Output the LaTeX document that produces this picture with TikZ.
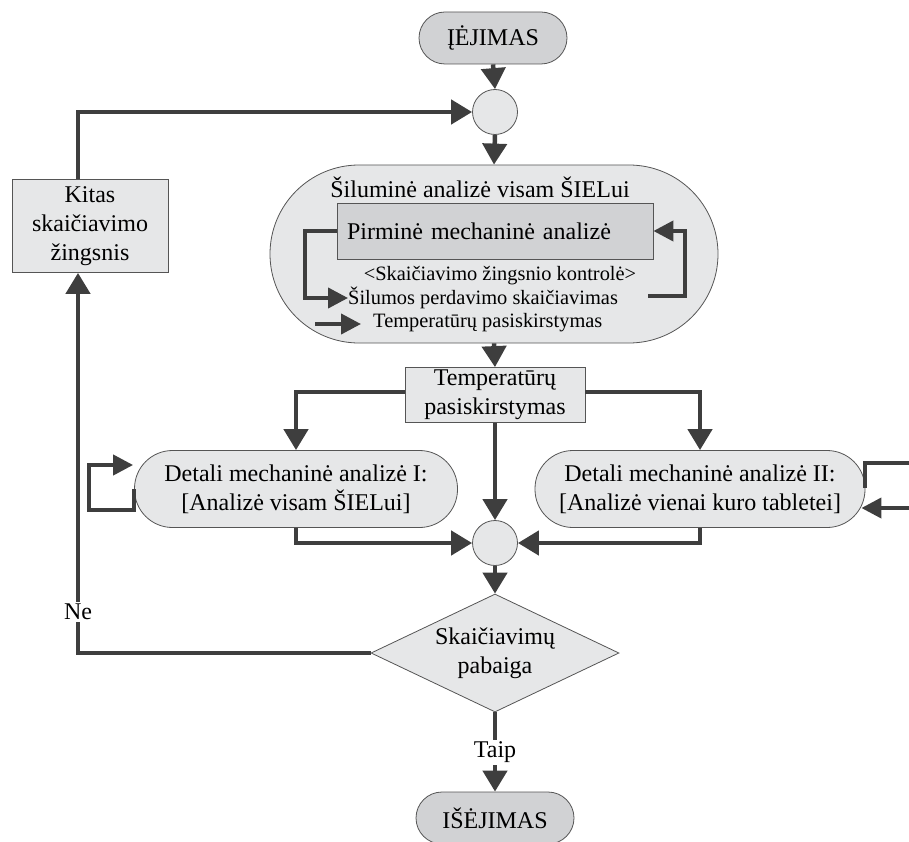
\documentclass[tikz,border=0pt]{standalone}
\usepackage{fontspec}
\setmainfont{Liberation Serif}
\usetikzlibrary{arrows.meta,shapes.geometric,calc}
\definecolor{ln}{HTML}{3E3E3E}
\definecolor{bd}{HTML}{555555}
\definecolor{fl}{HTML}{E6E7E8}
\definecolor{fd}{HTML}{D1D2D4}
\begin{document}
\begin{tikzpicture}[x=1pt,y=-1pt,
  box/.style={draw=bd, line width=0.8pt, fill=fl, align=center, inner sep=0pt, font=\fontsize{24}{29}\selectfont},
  term/.style={box, fill=fd, rounded corners=26pt, minimum height=52pt},
  junct/.style={box, circle, minimum size=45pt},
  conn/.style={draw=ln, line width=4.5pt},
  arr/.style={conn, -{Triangle[length=21pt,width=24pt]}},
  arrs/.style={draw=ln, line width=4pt, -{Triangle[length=20pt,width=20pt]}},
  small/.style={inner sep=0pt, font=\fontsize{20.4}{24}\selectfont},
  lab/.style={fill=white, inner sep=2pt, font=\fontsize{24}{29}\selectfont}
]
\useasboundingbox (0,0) rectangle (909,842);

% nodes
\node[term, minimum width=148pt] (in) at (493,38) {ĮĖJIMAS};
\node[junct] (c1) at (495,112) {};
\node[box, rounded corners=89pt, minimum width=448pt, minimum height=178pt] (big) at (494,254) {};
\node[small, font=\fontsize{24}{29}\selectfont] (title) at (480,187) {Šiluminė analizė visam ŠIELui};
\node[box, fill=fd, text width=296pt, align=left, inner xsep=10pt, minimum height=56pt] (inner) at (495,231) {Pirminė mechaninė analizė};
\node[small] (skk) at (500,276) {<Skaičiavimo žingsnio kontrolė>};
\node[small, anchor=west] (sil) at (348,298) {Šilumos perdavimo skaičiavimas};
\node[small, anchor=west] (tp) at (373,323) {Temperatūrų pasiskirstymas};
\node[box, minimum width=180pt, minimum height=55pt] (temp) at (495,395) {Temperatūrų\\pasiskirstymas};
\node[box, rounded corners=38pt, minimum width=323pt, minimum height=77pt] (d1) at (296,489) {Detali mechaninė analizė I:\\ {[}Analizė visam ŠIELui{]}};
\node[box, rounded corners=38pt, minimum width=330pt, minimum height=77pt] (d2) at (700,489) {Detali mechaninė analizė II:\\ {[}Analizė vienai kuro tabletei{]}};
\node[junct] (c2) at (495,543) {};
\node[box, diamond, aspect=2.1, minimum width=248pt, minimum height=118pt] (dia) at (495,653) {Skaičiavimų\\pabaiga};
\node[term, minimum width=158pt] (out) at (495,818) {IŠĖJIMAS};
\node[box, minimum width=156pt, minimum height=93pt] (kitas) at (90,226) {Kitas\\skaičiavimo\\žingsnis};

\coordinate (kb) at ($(kitas.south)+(-12,0)$);
\coordinate (kt) at ($(kitas.north)+(-12,0)$);

% main connectors
\draw[arr] (in.south) -- (c1.north);
\draw[arr] (c1.south) -- (big.north);
\draw[arr] (big.south) -- (temp.north);
\draw[arr] ($(temp.west)+(0,-3)$) -| (d1.north);
\draw[arr] ($(temp.east)+(0,-3)$) -| (d2.north);
\draw[arr] (temp.south) -- (c2.north);
\draw[arr] (d1.south) |- (c2.west);
\draw[arr] (d2.south) |- (c2.east);
\draw[arr] (c2.south) -- (dia.north);
\draw[arr] (dia.south) -- node[lab, pos=0.5] {Taip} (out.north);
\draw[arr] (dia.west) -| node[lab, pos=0.554] {Ne} (kb);
\draw[arr] (kt) |- (c1.west);

% loops inside the thermal box
\draw[arrs] (inner.west) -- ++(-32,0) |- (sil.west);
\coordinate (rl) at ($(sil.east)+(30,-2)$);
\draw[arrs] (rl) -- ++(37,0) |- (inner.east);
\draw[arrs] ($(tp.west)+(-58,1)$) -- ($(tp.west)+(-12,1)$);

% loops of the detailed analyses
\draw[arrs] (d1.west) -- ++(0,21) -- ++(-45,0) -- ++(0,-45) -- ++(44,0);
\draw[arrs] ($(d2.east)+(0,-1)$) -- ++(0,-25) -- (940,463) -- (940,508) -- ($(d2.east)+(-4,19)$);
\end{tikzpicture}
\end{document}
